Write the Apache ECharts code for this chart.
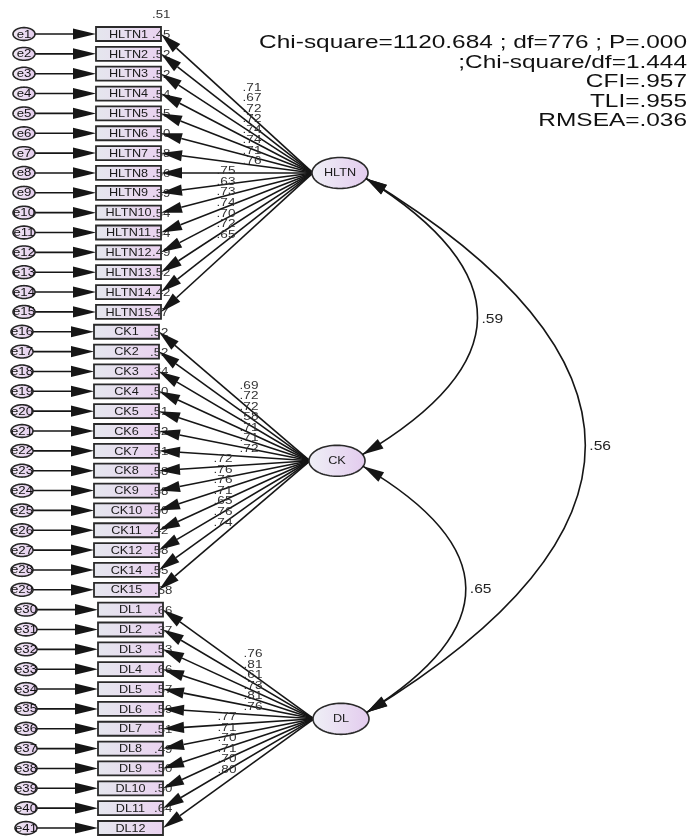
<!DOCTYPE html>
<html>
<head>
<meta charset="utf-8">
<title>CFA measurement model</title>
<script src="https://cdn.jsdelivr.net/npm/echarts@6/dist/echarts.min.js"></script>
<style>
  html, body { margin: 0; padding: 0; background: #ffffff; }
  #chart { width: 698px; height: 837px; }
</style>
</head>
<body>
<div id="chart"></div>
<script>
// ---- Model data -------------------------------------------------------------
const factorNames = ['HLTN', 'CK', 'DL'];

const hltnItems = ['HLTN1', 'HLTN2', 'HLTN3', 'HLTN4', 'HLTN5', 'HLTN6', 'HLTN7', 'HLTN8',
                   'HLTN9', 'HLTN10', 'HLTN11', 'HLTN12', 'HLTN13', 'HLTN14', 'HLTN15'];
const ckItems = ['CK1', 'CK2', 'CK3', 'CK4', 'CK5', 'CK6', 'CK7', 'CK8',
                 'CK9', 'CK10', 'CK11', 'CK12', 'CK14', 'CK15'];
const dlItems = ['DL1', 'DL2', 'DL3', 'DL4', 'DL5', 'DL6', 'DL7', 'DL8',
                 'DL9', 'DL10', 'DL11', 'DL12'];

// standardized factor loadings
const hltnLoadings = [.71, .67, .72, .72, .74, .74, .71, .76, .75, .63, .73, .74, .70, .72, .65];
const ckLoadings = [.69, .72, .72, .58, .71, .71, .72, .72, .76, .76, .71, .65, .76, .74];
const dlLoadings = [.76, .81, .61, .73, .81, .76, .77, .71, .70, .71, .70, .80];

// squared multiple correlations of the indicators
const hltnR2 = [.51, .45, .52, .52, .54, .55, .50, .58, .56, .39, .54, .54, .49, .52, .42];
const ckR2 = [.47, .52, .52, .34, .50, .51, .52, .51, .58, .58, .50, .42, .58, .55];
const dlR2 = [.58, .66, .37, .53, .66, .57, .59, .51, .49, .50, .50, .64];

// factor correlations
const covFrom = ['HLTN', 'HLTN', 'CK'];
const covTo = ['CK', 'DL', 'DL'];
const covValues = [.59, .56, .65];

// model fit summary
const fitLines = [
  'Chi-square=1120.684 ; df=776 ; P=.000',
  ';Chi-square/df=1.444',
  'CFI=.957',
  'TLI=.955',
  'RMSEA=.036'
];

// ---- Layout (drawing units) ------------------------------------------------
const FONT = "'Liberation Sans', Arial, Helvetica, sans-serif";
const LAYOUT = {
  errX: 24, errRx: 11, errRy: 6.4,
  boxLeft: 96, boxW: 65, boxH: 14,
  latentX: 340, latentRx: 28, latentRy: 15.5,
  curveness: 0.82
};
const SHIFT = {
  HLTN: { box: 0, latent: 0 },
  CK: { box: -2, latent: -3 },
  DL: { box: 2, latent: 1 }
};

// ---- Build indicator rows ---------------------------------------------------
const groupItems = { HLTN: hltnItems, CK: ckItems, DL: dlItems };
const groupLoadings = { HLTN: hltnLoadings, CK: ckLoadings, DL: dlLoadings };
const groupR2 = { HLTN: hltnR2, CK: ckR2, DL: dlR2 };

const rows = [];
const groups = {};
let rowIndex = 0;
factorNames.forEach(function (f) {
  const first = rowIndex;
  groupItems[f].forEach(function (item, i) {
    rows.push({ factor: f, item: item, loading: groupLoadings[f][i], r2: groupR2[f][i],
                row: rowIndex, err: 'e' + (rowIndex + 1) });
    rowIndex++;
  });
  const last = rowIndex - 1;
  groups[f] = { first: first, last: last, centerRow: (first + last) / 2 };
});
// loading labels stack in two clusters: paths rising/level vs. falling
factorNames.forEach(function (f) {
  const g = groups[f];
  const members = rows.filter(function (r) { return r.factor === f; });
  const top = members.filter(function (r) { return r.row <= g.centerRow; });
  const bottom = members.filter(function (r) { return r.row > g.centerRow; });
  g.nTop = top.length;
  top.forEach(function (r, k) { r.side = 'top'; r.k = k; });
  bottom.forEach(function (r, k) { r.side = 'bottom'; r.k = k; });
});

// ---- Drawing helpers ----------------------------------------------------------
function fmt(v) { return v.toFixed(2).replace(/^0/, ''); }

function ellipsePts(cx, cy, rx, ry) {
  const pts = [];
  for (let i = 0; i < 72; i++) {
    const a = i / 72 * Math.PI * 2;
    pts.push([cx + rx * Math.cos(a), cy + ry * Math.sin(a)]);
  }
  return pts;
}

function arrowHead(tip, from, len, half) {
  const dx = tip[0] - from[0], dy = tip[1] - from[1];
  const L = Math.hypot(dx, dy) || 1;
  const ux = dx / L, uy = dy / L;
  const bx = tip[0] - ux * len, by = tip[1] - uy * len;
  return [[tip[0], tip[1]], [bx - uy * half, by + ux * half], [bx + uy * half, by - ux * half]];
}

function grad(c0, c1) {
  return new echarts.graphic.LinearGradient(0, 0, 1, 0, [
    { offset: 0, color: c0 }, { offset: 1, color: c1 }
  ]);
}

function txt(x, y, text, size, sx, align, color) {
  return {
    type: 'text', x: x, y: y, scaleX: sx,
    style: { text: text, fontSize: size, fontFamily: FONT, fill: color || '#222',
             align: align || 'center', verticalAlign: 'middle' }
  };
}

function latentCenter(api, f) {
  return api.coord([LAYOUT.latentX + SHIFT[f].latent, groups[f].centerRow]);
}

const INK = '#161616';

// ---- Series -------------------------------------------------------------------
const rowData = rows.map(function (r) { return [LAYOUT.boxLeft, r.row]; });

const errorSeries = {
  type: 'custom', name: 'errors', coordinateSystem: 'cartesian2d', silent: true, clip: false,
  data: rowData, z: 2,
  renderItem: function (params, api) {
    const r = rows[params.dataIndex];
    const sh = SHIFT[r.factor].box;
    const c = api.coord([LAYOUT.errX + sh, api.value(1)]);
    const b = api.coord([LAYOUT.boxLeft + sh, api.value(1)]);
    const x0 = c[0] + LAYOUT.errRx;
    return { type: 'group', children: [
      { type: 'line', shape: { x1: x0, y1: c[1], x2: b[0] - 8, y2: c[1] },
        style: { stroke: INK, lineWidth: 1.6 } },
      { type: 'polygon', shape: { points: arrowHead([b[0], c[1]], [x0, c[1]], 23, 5.6) },
        style: { fill: INK } },
      { type: 'polygon', shape: { points: ellipsePts(c[0], c[1], LAYOUT.errRx, LAYOUT.errRy) },
        style: { fill: grad('#f1e9f4', '#e4cdee'), stroke: '#262626', lineWidth: 1.6 } },
      txt(c[0], c[1] + 0.5, r.err, 11, 1.2, 'center', '#111')
    ] };
  }
};

const boxSeries = {
  type: 'custom', name: 'indicators', coordinateSystem: 'cartesian2d', silent: true, clip: false,
  data: rowData, z: 3,
  renderItem: function (params, api) {
    const r = rows[params.dataIndex];
    const sh = SHIFT[r.factor].box;
    const p = api.coord([LAYOUT.boxLeft + sh, api.value(1)]);
    const right = p[0] + LAYOUT.boxW;
    return { type: 'group', children: [
      { type: 'rect',
        shape: { x: p[0], y: p[1] - LAYOUT.boxH / 2, width: LAYOUT.boxW, height: LAYOUT.boxH },
        style: { fill: grad('#e5e7ee', '#ead2f0'), stroke: '#2a2a2a', lineWidth: 1.8 } },
      txt(p[0] + LAYOUT.boxW / 2, p[1] + 0.5, r.item, 11.5, 1.1, 'center', '#1a1a1a'),
      txt(right - 9, p[1] - 19, fmt(r.r2), 11.5, 1.15, 'left', '#333')
    ] };
  }
};

const loadingSeries = {
  type: 'custom', name: 'loadings', coordinateSystem: 'cartesian2d', silent: true, clip: false,
  data: rowData, z: 4,
  renderItem: function (params, api) {
    const r = rows[params.dataIndex];
    const sh = SHIFT[r.factor].box;
    const g = groups[r.factor];
    const lc = latentCenter(api, r.factor);
    const origin = [lc[0] - LAYOUT.latentRx + 1, lc[1]];
    const p = api.coord([LAYOUT.boxLeft + sh, api.value(1)]);
    const tip = [p[0] + LAYOUT.boxW, p[1]];
    const head = arrowHead(tip, origin, 21, 5.6);
    const base = [(head[1][0] + head[2][0]) / 2, (head[1][1] + head[2][1]) / 2];
    let lx, ly;
    if (r.side === 'top') {
      lx = lc[0] - 88;
      ly = lc[1] - 12 - (g.nTop - 1 - r.k) * 10.5;
    } else {
      lx = lc[0] - 114;
      ly = lc[1] - 2 + r.k * 10.6;
    }
    return { type: 'group', children: [
      { type: 'line', shape: { x1: origin[0], y1: origin[1], x2: base[0], y2: base[1] },
        style: { stroke: INK, lineWidth: 1.6 } },
      { type: 'polygon', shape: { points: head }, style: { fill: INK } },
      txt(lx, ly, fmt(r.loading), 11.5, 1.18, 'center', '#333')
    ] };
  }
};

const latentSeries = {
  type: 'custom', name: 'factors', coordinateSystem: 'cartesian2d', silent: true, clip: false,
  data: factorNames.map(function (f) {
    return [LAYOUT.latentX + SHIFT[f].latent, groups[f].centerRow];
  }),
  z: 5,
  renderItem: function (params, api) {
    const f = factorNames[params.dataIndex];
    const c = api.coord([api.value(0), api.value(1)]);
    return { type: 'group', children: [
      { type: 'polygon', shape: { points: ellipsePts(c[0], c[1], LAYOUT.latentRx, LAYOUT.latentRy) },
        style: { fill: grad('#eff0f6', '#e3cbee'), stroke: '#2a2a2a', lineWidth: 1.6 } },
      txt(c[0], c[1] + 0.5, f, 11, 1.15, 'center', '#1a1a1a')
    ] };
  }
};

function ellipseEdge(c, angleDeg) {
  const a = angleDeg * Math.PI / 180;
  return [c[0] + LAYOUT.latentRx * Math.cos(a), c[1] + LAYOUT.latentRy * Math.sin(a)];
}

const covSeries = {
  type: 'custom', name: 'correlations', coordinateSystem: 'cartesian2d', silent: true, clip: false,
  data: covValues.map(function (v, i) { return [i, v]; }),
  z: 6,
  renderItem: function (params, api) {
    const i = params.dataIndex;
    const a = latentCenter(api, covFrom[i]);
    const b = latentCenter(api, covTo[i]);
    const p0 = ellipseEdge(a, 21);
    const p2 = ellipseEdge(b, -24);
    const dx = p2[0] - p0[0], dy = p2[1] - p0[1];
    const k = LAYOUT.curveness;
    const cp = [(p0[0] + p2[0]) / 2 + dy * k, (p0[1] + p2[1]) / 2 - dx * k];
    const apex = [0.25 * p0[0] + 0.5 * cp[0] + 0.25 * p2[0], 0.25 * p0[1] + 0.5 * cp[1] + 0.25 * p2[1]];
    return { type: 'group', children: [
      { type: 'bezierCurve',
        shape: { x1: p0[0], y1: p0[1], x2: p2[0], y2: p2[1], cpx1: cp[0], cpy1: cp[1] },
        style: { stroke: INK, lineWidth: 1.6, fill: null } },
      { type: 'polygon', shape: { points: arrowHead(p0, cp, 21, 5.6) }, style: { fill: INK } },
      { type: 'polygon', shape: { points: arrowHead(p2, cp, 21, 5.6) }, style: { fill: INK } },
      txt(apex[0] + 4, apex[1] + 1, fmt(api.value(1)), 13, 1.2, 'left', '#222')
    ] };
  }
};

// ---- Chart ----------------------------------------------------------------------
const chart = echarts.init(document.getElementById('chart'), null, { renderer: 'canvas' });
chart.setOption({
  animation: false,
  backgroundColor: '#ffffff',
  grid: { left: 0, right: 0, top: 34, bottom: 9 },
  xAxis: { type: 'value', min: 0, max: 698, show: false },
  yAxis: { type: 'value', min: 0, max: 40, inverse: true, show: false },
  graphic: fitLines.map(function (line, i) {
    return {
      type: 'text', x: 687, y: 43 + i * 19.6, scaleX: 1.32, silent: true,
      style: { text: line, fontSize: 18.5, fontFamily: FONT, fill: '#111',
               align: 'right', verticalAlign: 'middle' }
    };
  }),
  series: [errorSeries, boxSeries, loadingSeries, latentSeries, covSeries]
});
</script>
</body>
</html>
